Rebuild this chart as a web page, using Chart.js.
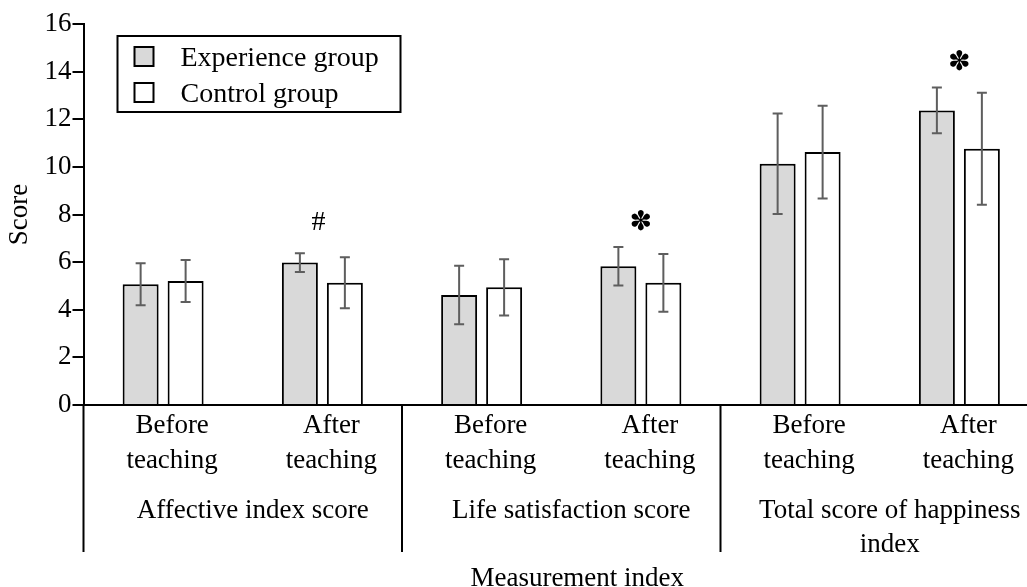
<!DOCTYPE html>
<html lang="en">
<head>
<meta charset="UTF-8" />
<title>Score by measurement index</title>
<style>
    html, body { margin: 0; padding: 0; background: #fff; overflow: hidden; }
    .chart-box { position: relative; width: 1040px; height: 587px; }
</style>
</head>
<body>
<div class="chart-box"><canvas id="scoreChart"></canvas></div>

<script src="https://cdn.jsdelivr.net/npm/chart.js"></script>
<script>
    // data
    const tickLabels = [
        ['Before', 'teaching'], ['After', 'teaching'],
        ['Before', 'teaching'], ['After', 'teaching'],
        ['Before', 'teaching'], ['After', 'teaching']
    ];
    const groupNames = [
        ['Affective index score'],
        ['Life satisfaction score'],
        ['Total score of happiness', 'index']
    ];
    const experience = [5.07, 5.98, 4.62, 5.83, 10.13, 12.37];
    const experienceErr = [0.88, 0.39, 1.23, 0.81, 2.11, 0.96];
    const control = [5.21, 5.13, 4.94, 5.13, 10.62, 10.76];
    const controlErr = [0.88, 1.07, 1.18, 1.21, 1.95, 2.35];
    const marks = ['', '#', '', '\u273D', '', '\u273D'];
    const markValues = [null, 7.64, null, 7.64, null, 14.38];
    const yMin = 0, yMax = 16, yStep = 2;

    const serif = "'Times New Roman', 'Liberation Serif', serif";

    // error bars, significance marks, legend box, group labels
    const decorations = {
        id: 'decorations',
        afterDatasetsDraw(chart) {
            const { ctx, scales: { x, y } } = chart;
            ctx.save();
            ctx.strokeStyle = '#5e5e5e';
            ctx.lineWidth = 2;
            chart.data.datasets.forEach((ds, di) => {
                chart.getDatasetMeta(di).data.forEach((bar, i) => {
                    const top = y.getPixelForValue(ds.data[i] + ds.errors[i]);
                    const bot = y.getPixelForValue(ds.data[i] - ds.errors[i]);
                    ctx.beginPath();
                    ctx.moveTo(bar.x, top); ctx.lineTo(bar.x, bot);
                    ctx.moveTo(bar.x - 5, top); ctx.lineTo(bar.x + 5, top);
                    ctx.moveTo(bar.x - 5, bot); ctx.lineTo(bar.x + 5, bot);
                    ctx.stroke();
                });
            });

            ctx.fillStyle = '#000';
            ctx.textAlign = 'center';
            ctx.textBaseline = 'middle';
            marks.forEach((m, i) => {
                if (!m) return;
                ctx.font = m === '#' ? '28px ' + serif : '27px DejaVu Sans';
                ctx.fillText(m, x.getPixelForValue(i) - (m === '#' ? 4 : 0), y.getPixelForValue(markValues[i]));
            });
            ctx.restore();
        },
        afterDraw(chart) {
            const { ctx, chartArea, scales: { x } } = chart;
            ctx.save();

            // legend
            const lx = chartArea.left + 34, ly = chartArea.top + 12;
            ctx.strokeStyle = '#000';
            ctx.lineWidth = 2;
            ctx.strokeRect(lx, ly, 283, 76);
            ctx.font = '28px ' + serif;
            ctx.textAlign = 'left';
            ctx.textBaseline = 'alphabetic';
            chart.data.datasets.forEach((ds, i) => {
                const sy = ly + 11 + i * 36;
                ctx.fillStyle = ds.backgroundColor;
                ctx.fillRect(lx + 17, sy, 19, 19);
                ctx.strokeRect(lx + 17, sy, 19, 19);
                ctx.fillStyle = '#000';
                ctx.fillText(ds.label, lx + 63, sy + 19);
            });

            // group separators below the axis
            const base = chartArea.bottom;
            ctx.beginPath();
            [-0.5, 1.5, 3.5].forEach(v => {
                const px = Math.max(chartArea.left, x.getPixelForValue(v));
                ctx.moveTo(px, base); ctx.lineTo(px, base + 147);
            });
            ctx.stroke();

            // group labels
            ctx.font = '27px ' + serif;
            ctx.textAlign = 'center';
            groupNames.forEach((lines, g) => {
                const cx = x.getPixelForValue(g * 2 + 0.5) + 10;
                lines.forEach((t, k) => ctx.fillText(t, cx, base + 113 + k * 34));
            });

            // axis title
            ctx.fillText('Measurement index', x.getPixelForValue(2.5) + 16, base + 181);
            ctx.restore();
        }
    };

    new Chart(document.getElementById('scoreChart'), {
        type: 'bar',
        data: {
            labels: tickLabels,
            datasets: [{
                label: 'Experience group',
                data: experience,
                errors: experienceErr,
                backgroundColor: '#d9d9d9',
                borderColor: '#000',
                borderWidth: 2
            }, {
                label: 'Control group',
                data: control,
                errors: controlErr,
                backgroundColor: '#ffffff',
                borderColor: '#000',
                borderWidth: 2
            }]
        },
        options: {
            responsive: true,
            maintainAspectRatio: false,
            animation: false,
            categoryPercentage: 0.565,
            barPercentage: 0.8,
            layout: { padding: { top: 24, right: 1, left: 0, bottom: 0 } },
            plugins: {
                legend: { display: false },
                tooltip: { enabled: false }
            },
            scales: {
                x: {
                    grid: { display: false },
                    border: { display: true, color: '#000', width: 2 },
                    ticks: {
                        color: '#000',
                        font: { family: serif, size: 27, lineHeight: 1.3 },
                        padding: -5,
                        labelOffset: 9,
                        maxRotation: 0,
                        autoSkip: false
                    },
                    afterFit(scale) { scale.height = 182; }
                },
                y: {
                    min: yMin,
                    max: yMax,
                    grid: { display: true, drawOnChartArea: false, drawTicks: true, tickLength: 11, color: '#000', lineWidth: 2 },
                    border: { display: true, color: '#000', width: 2 },
                    ticks: {
                        stepSize: yStep,
                        color: '#000',
                        padding: 1,
                        font: { family: serif, size: 27 }
                    },
                    title: {
                        display: true,
                        text: 'Score',
                        color: '#000',
                        font: { family: serif, size: 27 },
                        padding: { top: 4, bottom: 0 }
                    },
                    afterFit(scale) { scale.width = 83.5; }
                }
            }
        },
        plugins: [decorations]
    });
</script>
</body>
</html>
